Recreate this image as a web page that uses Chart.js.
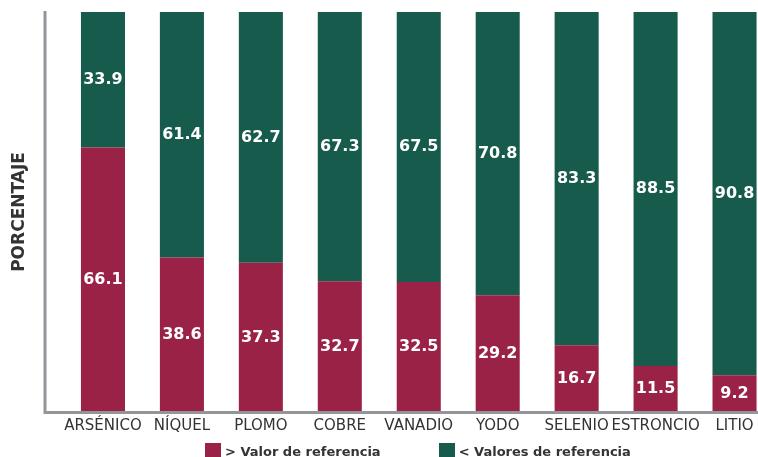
<!DOCTYPE html>
<html lang="es">
<head>
<meta charset="utf-8">
<title>Porcentaje por elemento</title>
<script src="https://cdn.jsdelivr.net/npm/chart.js@4.4.0/dist/chart.umd.min.js"></script>
<style>
  html, body { margin: 0; padding: 0; background: #fff; overflow: hidden; }
  #wrap { position: relative; width: 774px; height: 457px; }
  #leyenda {
    position: absolute; left: 205px; top: 443px;
    display: flex; align-items: center;
    font: bold 13px "DejaVu Sans", sans-serif; color: #333;
  }
  .item { display: flex; align-items: center; margin-right: 58px; }
  .caja { width: 16px; height: 16px; margin-right: 4px; }
</style>
</head>
<body>
<div id="wrap">
  <canvas id="grafica" width="774" height="457"></canvas>
  <div id="leyenda"></div>
</div>
<script>
const categorias = ["ARSÉNICO", "NÍQUEL", "PLOMO", "COBRE", "VANADIO", "YODO", "SELENIO", "ESTRONCIO", "LITIO"];
const sobreReferencia = [66.1, 38.6, 37.3, 32.7, 32.5, 29.2, 16.7, 11.5, 9.2];
const bajoReferencia = [33.9, 61.4, 62.7, 67.3, 67.5, 70.8, 83.3, 88.5, 90.8];

const GUINDA = "#9b2247";
const VERDE = "#175b4c";
const GRIS_EJE = "#939598";

// ejes grises separados del área de barras
const ejesPlugin = {
  id: "ejes",
  afterDatasetsDraw(chart) {
    const { ctx, chartArea } = chart;
    const x0 = chartArea.left - 18.5;
    const y0 = chartArea.bottom + 0.5;
    ctx.save();
    ctx.strokeStyle = GRIS_EJE;
    ctx.lineWidth = 3;
    ctx.beginPath();
    ctx.moveTo(x0, chartArea.top - 1);
    ctx.lineTo(x0, y0 + 1.5);
    ctx.moveTo(x0 - 1.5, y0);
    ctx.lineTo(chart.width, y0);
    ctx.stroke();
    ctx.restore();
  }
};

// valor de cada segmento al centro de la barra
const etiquetasPlugin = {
  id: "etiquetas",
  afterDatasetsDraw(chart) {
    const ctx = chart.ctx;
    ctx.save();
    ctx.font = 'bold 16px "DejaVu Sans", sans-serif';
    ctx.fillStyle = "#fff";
    ctx.textAlign = "center";
    ctx.textBaseline = "middle";
    chart.data.datasets.forEach((ds, i) => {
      chart.getDatasetMeta(i).data.forEach((bar, j) => {
        ctx.fillText(ds.data[j].toFixed(1), bar.x, (bar.y + bar.base) / 2);
      });
    });
    ctx.restore();
  }
};

const chart = new Chart(document.getElementById("grafica"), {
  type: "bar",
  data: {
    labels: categorias,
    datasets: [
      { label: "> Valor de referencia", data: sobreReferencia, backgroundColor: GUINDA },
      { label: "< Valores de referencia", data: bajoReferencia, backgroundColor: VERDE }
    ]
  },
  options: {
    responsive: false,
    animation: false,
    layout: { padding: { top: 12, right: 0, bottom: 0, left: 0 } },
    datasets: { bar: { categoryPercentage: 1, barPercentage: 0.558, borderWidth: 0 } },
    scales: {
      x: {
        stacked: true,
        grid: { display: false, drawTicks: false },
        border: { display: false },
        ticks: {
          color: "#333",
          padding: 5,
          maxRotation: 0,
          autoSkip: false,
          font: { family: "DejaVu Sans", size: 15 }
        },
        afterFit(scale) { scale.height = 45; }
      },
      y: {
        stacked: true,
        min: 0,
        max: 100,
        grid: { display: false, drawTicks: false },
        border: { display: false },
        ticks: { display: false },
        title: {
          display: true,
          text: "PORCENTAJE",
          color: "#333",
          padding: { top: 9, bottom: 0 },
          font: { family: "DejaVu Sans", size: 17, weight: "bold" }
        },
        afterFit(scale) { scale.width = 63.5; }
      }
    },
    plugins: {
      legend: { display: false },
      tooltip: { enabled: false }
    }
  },
  plugins: [ejesPlugin, etiquetasPlugin]
});

const leyenda = document.getElementById("leyenda");
for (const ds of chart.data.datasets) {
  const item = document.createElement("div");
  item.className = "item";
  const caja = document.createElement("span");
  caja.className = "caja";
  caja.style.background = ds.backgroundColor;
  item.appendChild(caja);
  item.appendChild(document.createTextNode(ds.label));
  leyenda.appendChild(item);
}
</script>
</body>
</html>
